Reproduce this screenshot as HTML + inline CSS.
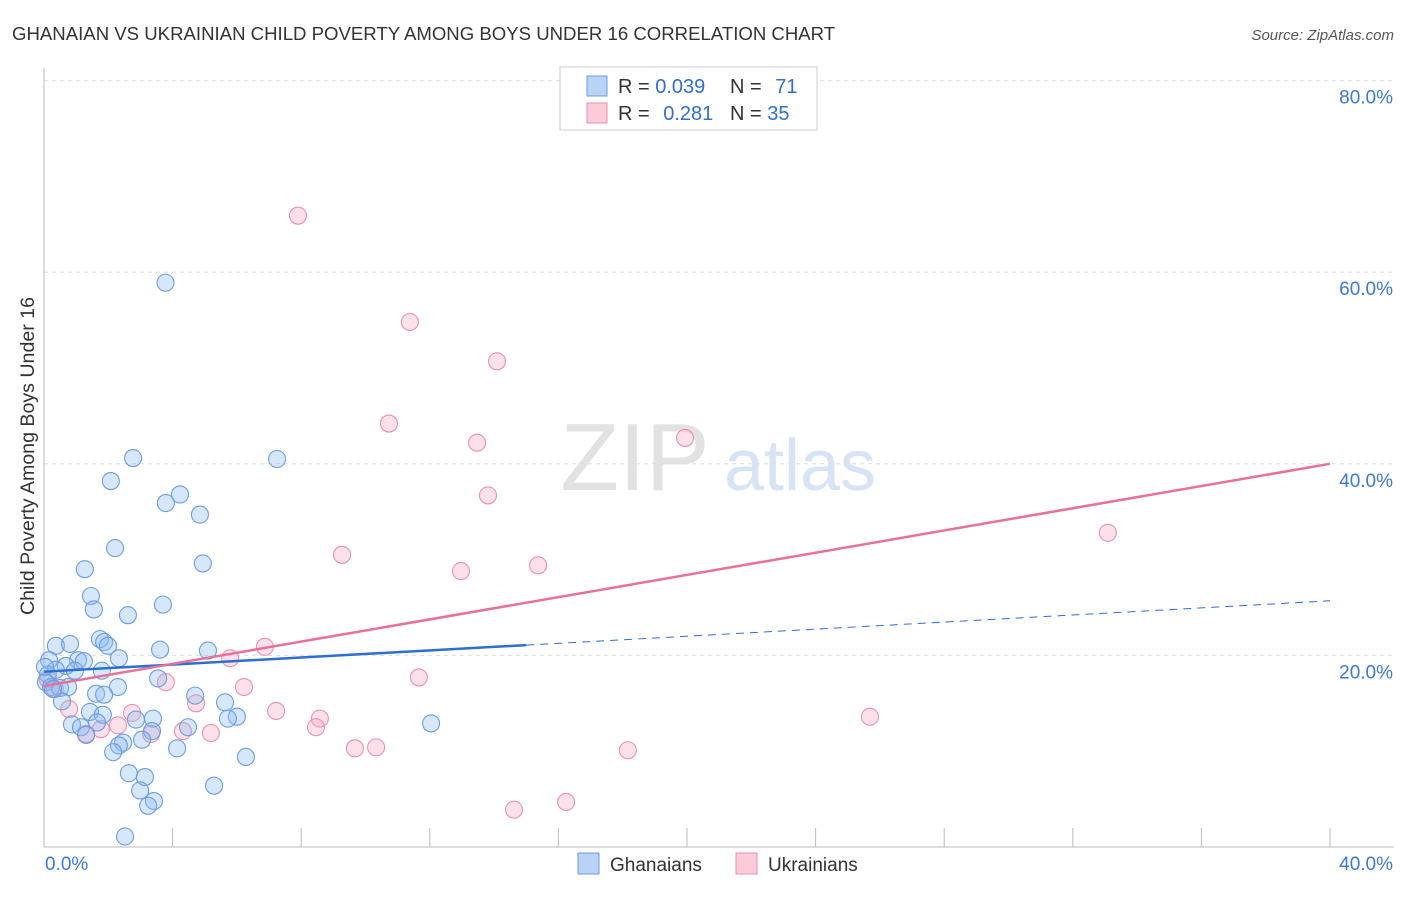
<!DOCTYPE html>
<html><head><meta charset="utf-8">
<style>
body{margin:0;background:#fff;font-family:"Liberation Sans",sans-serif;}
svg text{font-family:"Liberation Sans",sans-serif;}
</style></head>
<body>
<svg id="chart" width="1406" height="892" viewBox="0 0 1406 892" xmlns="http://www.w3.org/2000/svg">
<text x="12" y="40" font-size="18.6" fill="#333">GHANAIAN VS UKRAINIAN CHILD POVERTY AMONG BOYS UNDER 16 CORRELATION CHART</text>
<text x="1394" y="40" font-size="15" fill="#555" font-style="italic" text-anchor="end">Source: ZipAtlas.com</text>
<text x="34" y="456" font-size="19.6" fill="#333" text-anchor="middle" transform="rotate(-90 34 456)">Child Poverty Among Boys Under 16</text>
<g>
<text x="635" y="490" font-size="96" fill="#e2e2e2" font-family="Liberation Serif" text-anchor="middle">ZIP</text>
<text x="800" y="490" font-size="72" fill="#d6e4f5" text-anchor="middle">atlas</text>
</g>
<g id="grid"></g><g id="axes"></g><g id="marks"></g>
<g>
<rect x="560" y="67" width="257" height="63" fill="#fff" stroke="#ccc"/>
<rect x="587" y="76" width="20" height="20" fill="#b8d3f5" stroke="#6b9de0"/>
<rect x="587" y="103" width="20" height="20" fill="#fbcbd9" stroke="#ea8fac"/>
<text x="618" y="93" font-size="20" fill="#333">R = <tspan fill="#2f6fd0">0.039</tspan></text>
<text x="730" y="93" font-size="20" fill="#333">N = <tspan fill="#2f6fd0" dx="8">71</tspan></text>
<text x="618" y="120" font-size="20" fill="#333">R = <tspan fill="#2f6fd0" dx="8">0.281</tspan></text>
<text x="730" y="120" font-size="20" fill="#333">N = <tspan fill="#2f6fd0">35</tspan></text>
</g>
<g>
<rect x="578" y="853" width="21" height="21" fill="#b8d3f5" stroke="#6b9de0"/>
<text x="610" y="871" font-size="19" fill="#333">Ghanaians</text>
<rect x="736" y="853" width="21" height="21" fill="#fbcbd9" stroke="#ea8fac"/>
<text x="768" y="871" font-size="19" fill="#333">Ukrainians</text>
</g>
</svg>
<script>
const blueX=[3.78,2.77,7.25,2.08,4.23,3.79,4.85,2.21,4.94,1.27,1.46,3.70,1.55,2.61,0.37,0.81,1.74,1.87,1.99,3.61,5.10,2.33,0.16,1.06,1.24,0.68,0.96,1.80,0.12,3.55,0.06,0.22,0.50,0.75,2.30,1.62,1.87,4.70,0.56,5.63,1.43,1.83,1.65,3.39,6.00,2.86,5.72,0.87,1.15,4.48,1.31,3.36,2.46,2.33,3.05,2.15,4.14,6.28,2.64,3.14,2.99,3.42,3.24,5.29,2.52,12.04,0.37,0.28,0.03];
const blueY=[58.9,40.6,40.5,38.2,36.8,35.9,34.7,31.2,29.6,29.0,26.2,25.3,24.8,24.2,21.0,21.2,21.7,21.4,21.0,20.6,20.5,19.7,19.5,19.5,19.4,18.9,18.4,18.4,18.0,17.6,17.2,16.7,16.6,16.7,16.7,16.0,15.9,15.8,15.2,15.1,14.1,13.8,13.0,13.4,13.6,13.3,13.4,12.8,12.5,12.5,11.7,12.1,10.9,10.6,11.2,9.9,10.3,9.4,7.7,7.3,5.9,4.8,4.3,6.4,1.1,12.9,18.5,16.5,18.8];
const pinkX=[7.90,11.38,14.09,10.73,13.47,19.94,13.81,9.27,12.97,15.37,33.09,6.87,5.79,3.79,6.22,11.66,4.73,7.22,8.58,8.46,2.74,4.32,5.19,2.30,1.77,1.31,3.33,0.78,9.67,10.33,18.16,25.69,14.62,16.24,0.12,0.34];
const pinkY=[65.9,54.8,50.7,44.2,42.2,42.7,36.7,30.5,28.8,29.4,32.8,20.9,19.7,17.2,16.7,17.7,15.0,14.2,13.4,12.5,14.0,12.1,11.9,12.7,12.3,11.8,11.8,14.4,10.3,10.4,10.1,13.6,3.9,4.7,17.5,16.5];
const blueLine=[18.3,25.7]; // y at x=0 and x=40
const pinkLine=[16.8,40.0];
const blueSolidEnd=15.0;
const yTicks=[20,40,60,80];
const yTickLabels=["20.0%","40.0%","60.0%","80.0%"];

const sx=v=>44+v*32.15, sy=v=>847-v*9.58;
const NS="http://www.w3.org/2000/svg";
function mk(t,a,p){const e=document.createElementNS(NS,t);for(const k in a)e.setAttribute(k,a[k]);p.appendChild(e);return e;}
const grid=document.getElementById('grid'),axes=document.getElementById('axes'),marks=document.getElementById('marks');
yTicks.forEach((t,i)=>{
 const l=mk('line',{x1:44,x2:1394,y1:sy(t),y2:sy(t),stroke:'#ddd','stroke-dasharray':'4,4'},grid);
 
 
 const tx=mk('text',{x:1393,y:sy(t)+23,'font-size':19,fill:'#3b78d8','text-anchor':'end'},axes);
 tx.textContent=yTickLabels[i];
 
 
});
mk('line',{x1:44,x2:44,y1:68,y2:847,stroke:'#bbb'},axes);
mk('line',{x1:44,x2:1394,y1:847,y2:847,stroke:'#bbb'},axes);
for(let i=1;i<=10;i++){mk('line',{x1:sx(i*4),x2:sx(i*4),y1:828,y2:847,stroke:'#bbb'},axes);}
let t0=mk('text',{x:45,y:870,'font-size':19,fill:'#3b78d8'},axes);t0.textContent='0.0%';


let t1=mk('text',{x:1393,y:870,'font-size':19,fill:'#3b78d8','text-anchor':'end'},axes);t1.textContent='40.0%';


pinkX.forEach((x,i)=>{const c=mk('circle',{cx:sx(x),cy:sy(pinkY[i]),r:8.5,fill:'rgba(247,170,195,0.35)',stroke:'#ec8fae','stroke-width':1.1},marks);
 
 });
blueX.forEach((x,i)=>{const c=mk('circle',{cx:sx(x),cy:sy(blueY[i]),r:8.5,fill:'rgba(140,185,240,0.35)',stroke:'#6b9de0','stroke-width':1.1},marks);
 
 });
const by=x=>blueLine[0]+(blueLine[1]-blueLine[0])*x/40, py=x=>pinkLine[0]+(pinkLine[1]-pinkLine[0])*x/40;
let l1=mk('line',{x1:sx(0),y1:sy(by(0)),x2:sx(blueSolidEnd),y2:sy(by(blueSolidEnd)),stroke:'#2a6fd6','stroke-width':2.5},marks);


let l2=mk('line',{x1:sx(blueSolidEnd),y1:sy(by(blueSolidEnd)),x2:sx(40),y2:sy(by(40)),stroke:'#2a6fd6','stroke-width':1,'stroke-dasharray':'8,6'},marks);


let l3=mk('line',{x1:sx(0),y1:sy(py(0)),x2:sx(40),y2:sy(py(40)),stroke:'#e8709a','stroke-width':2.5},marks);


</script>
</body></html>
